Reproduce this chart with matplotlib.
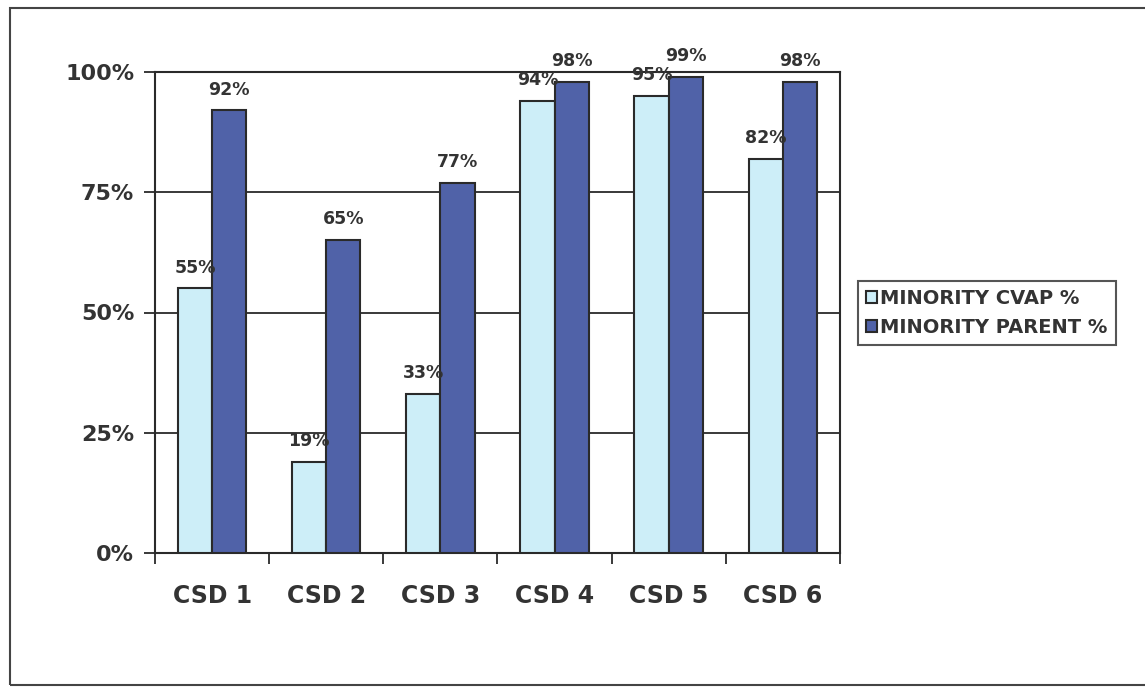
import matplotlib
matplotlib.use("Agg")
import matplotlib.pyplot as plt
import numpy as np
from matplotlib.patches import Rectangle

categories = ["CSD 1", "CSD 2", "CSD 3", "CSD 4", "CSD 5", "CSD 6"]
cvap = [55, 19, 33, 94, 95, 82]
parent = [92, 65, 77, 98, 99, 98]
series_names = ["MINORITY CVAP %", "MINORITY PARENT %"]
ytick_vals = [0, 25, 50, 75, 100]
ytick_labels = ["0%", "25%", "50%", "75%", "100%"]

plt.rcParams['font.family'] = ['DejaVu Sans']

light = "#CDEEF8"
dark = "#5062A8"
txt = "#333333"
edge = "#2a2a2a"

fig = plt.figure(figsize=(11.45, 6.88), dpi=100)
fig.patches.append(Rectangle((10/1145, 3/688), 1.2, 1 - 11/688, transform=fig.transFigure,
                             fill=False, edgecolor="#444444", linewidth=1.5, zorder=0))
ax = fig.add_axes([155/1145, 1 - 553/688, 685/1145, 481/688])

x = np.arange(len(categories))
w = 0.3
ax.bar(x - w/2, cvap, w, color=light, edgecolor=edge, linewidth=1.5, zorder=3, label=series_names[0])
ax.bar(x + w/2, parent, w, color=dark, edgecolor=edge, linewidth=1.5, zorder=3, label=series_names[1])

for xi, v in zip(x - w/2, cvap):
    ax.text(xi, v + 3.3, f"{v}%", ha="center", va="baseline", fontsize=12.5, fontweight="bold", color=txt, zorder=5)
for xi, v in zip(x + w/2, parent):
    ax.text(xi, v + 3.3, f"{v}%", ha="center", va="baseline", fontsize=12.5, fontweight="bold", color=txt, zorder=5)

ax.set_xlim(-0.5, len(categories) - 0.5)
ax.set_ylim(0, 100)
ax.set_yticks(ytick_vals)
ax.set_yticklabels(ytick_labels, fontsize=16, fontweight="bold", color=txt)
ax.yaxis.grid(True, color=edge, linewidth=1.3, zorder=0)
ax.set_axisbelow(True)

ax.set_xticks(x)
ax.set_xticklabels(categories, fontsize=17, fontweight="bold", color=txt)
ax.tick_params(axis="x", length=0, pad=22)
ax.set_xticks(np.arange(-0.5, len(categories)), minor=True)
ax.tick_params(axis="x", which="minor", length=8, width=1.3, color=edge, direction="out")
ax.tick_params(axis="y", length=8, width=1.3, color=edge, direction="out", pad=7)

for s in ax.spines.values():
    s.set_color(edge)
    s.set_linewidth(1.5)

leg = ax.legend(loc="center left", bbox_to_anchor=(858/1145, 1 - 313/688), bbox_transform=fig.transFigure,
                frameon=True, fancybox=False, edgecolor=edge,
                prop={"weight": "bold", "size": 14}, handlelength=0.6, handleheight=0.6,
                handletextpad=0.15, borderpad=0.4, labelspacing=0.5, borderaxespad=0)
leg.get_frame().set_linewidth(1.5)
for t in leg.get_texts():
    t.set_color(txt)

fig.savefig("out.png", dpi=100)
